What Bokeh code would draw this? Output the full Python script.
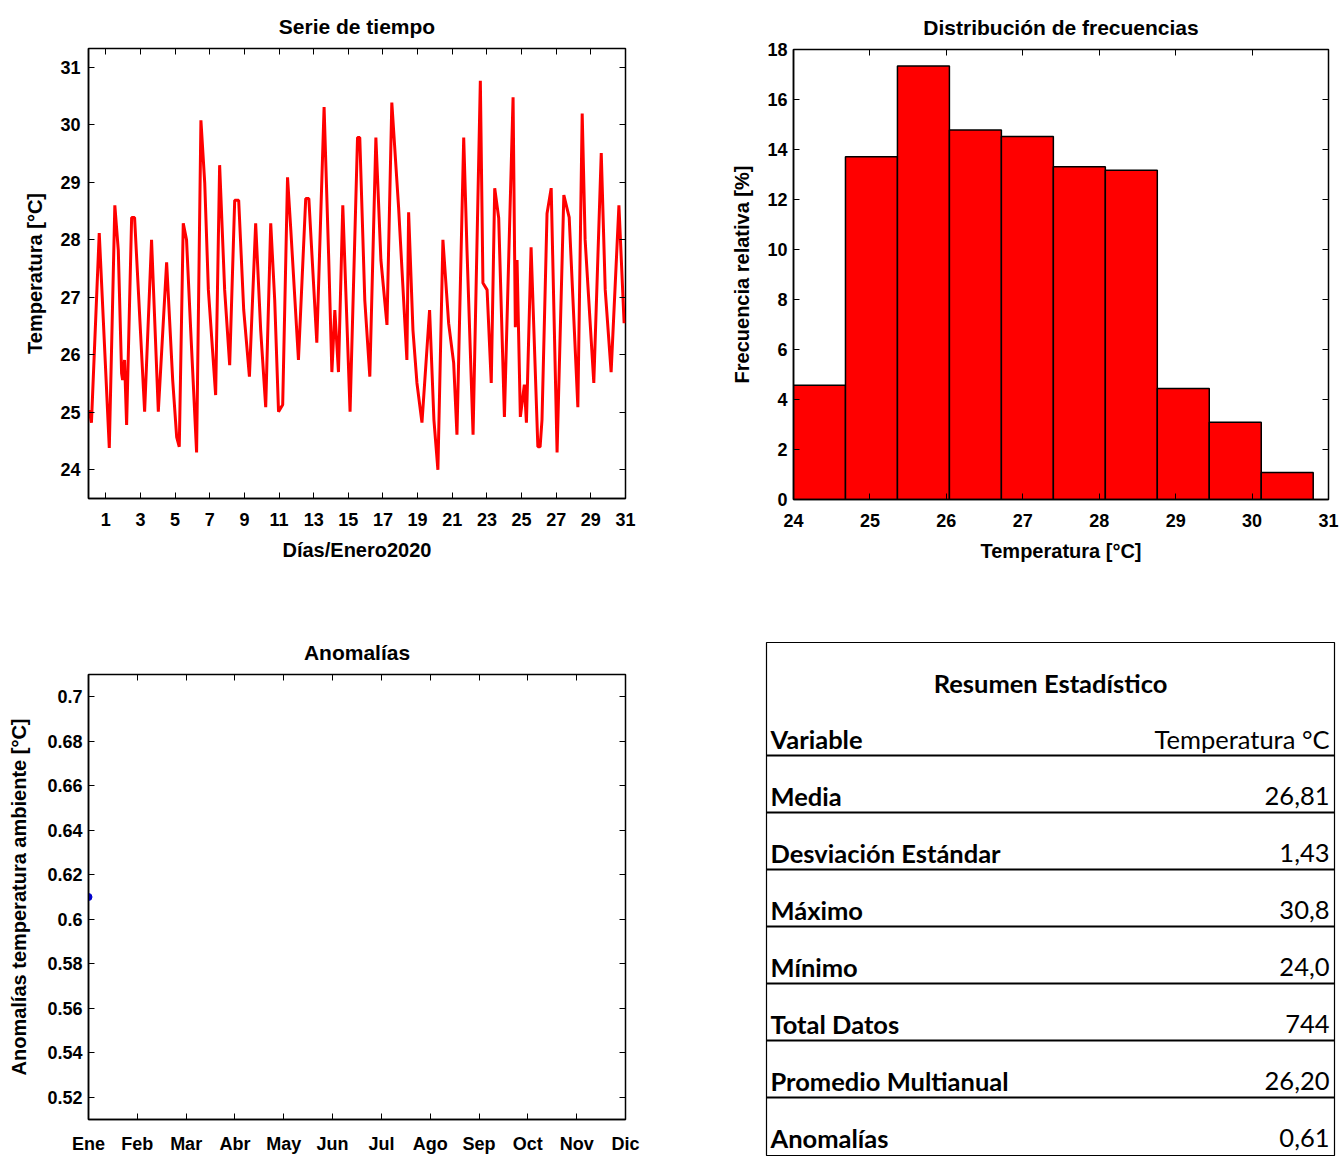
from bokeh.plotting import figure
from bokeh.layouts import row, column
from bokeh.models import (Range1d, FixedTicker, LinearAxis, CustomJSTickFormatter,
                          NumeralTickFormatter, ColumnDataSource)
from bokeh.core.properties import value
from bokeh.embed import file_html
from bokeh.resources import INLINE

# ---------------- data ----------------
dias = [0.04, 0.17, 0.62, 1.20, 1.52, 1.72, 1.91, 1.97, 2.08, 2.20,
        2.49, 2.66, 3.24, 3.64, 4.03, 4.51, 4.86, 5.09, 5.24, 5.47,
        5.66, 5.90, 6.24, 6.49, 6.71, 6.92, 7.34, 7.57, 7.86, 8.15,
        8.44, 8.67, 8.96, 9.29, 9.65, 9.94, 10.23, 10.52, 10.75, 10.97,
        11.21, 11.49, 11.68, 12.12, 12.54, 12.72, 13.18, 13.60, 13.87, 14.05,
        14.22, 14.43, 14.68, 15.10, 15.53, 15.66, 15.95, 16.24, 16.59, 16.88,
        17.23, 17.51, 17.90, 18.38, 18.48, 18.73, 18.96, 19.25, 19.69, 19.94,
        20.17, 20.46, 20.79, 21.08, 21.27, 21.66, 21.85, 22.20, 22.62, 22.77,
        23.01, 23.25, 23.45, 23.68, 24.01, 24.51, 24.64, 24.74, 24.93, 25.16,
        25.28, 25.55, 25.94, 26.07, 26.18, 26.47, 26.71, 27.05, 27.44, 27.75,
        28.25, 28.50, 28.67, 29.17, 29.60, 29.83, 30.17, 30.62, 30.92]
temperatura = [25.04, 24.82, 28.12, 24.38, 28.60, 27.82, 25.68, 25.56, 25.91, 24.78,
               28.39, 28.39, 25.01, 28.00, 25.01, 27.61, 25.56, 24.57, 24.40, 28.29,
               28.00, 26.43, 24.30, 30.08, 28.99, 27.13, 25.30, 29.30, 27.13, 25.82,
               28.69, 28.69, 26.78, 25.62, 28.29, 26.43, 25.09, 28.29, 26.95, 25.01,
               25.13, 29.09, 28.17, 25.91, 28.72, 28.72, 26.21, 30.31, 27.65, 25.70,
               26.78, 25.70, 28.60, 25.01, 29.78, 29.78, 26.95, 25.62, 29.78, 27.65,
               26.52, 30.39, 28.57, 25.91, 28.48, 26.43, 25.51, 24.82, 26.78, 24.87,
               24.00, 28.00, 26.55, 25.86, 24.61, 29.78, 27.82, 24.61, 30.77, 27.25,
               27.13, 25.51, 28.90, 28.38, 24.92, 30.48, 26.48, 27.65, 24.92, 25.48,
               24.82, 27.87, 24.40, 24.40, 24.87, 28.46, 28.90, 24.30, 28.78, 28.39,
               25.09, 30.20, 28.00, 25.51, 29.51, 27.13, 25.70, 28.60, 26.55]
dia_ticks = [1, 3, 5, 7, 9, 11, 13, 15, 17, 19, 21, 23, 25, 27, 29, 31]
temp_ticks = [24, 25, 26, 27, 28, 29, 30, 31]

bin_edges = [24.0, 24.68, 25.36, 26.04, 26.72, 27.40, 28.08, 28.76, 29.44, 30.12, 30.80]
frecuencia = [4.57, 13.71, 17.34, 14.78, 14.52, 13.31, 13.17, 4.44, 3.09, 1.08]
frec_ticks = [0, 2, 4, 6, 8, 10, 12, 14, 16, 18]

meses = ["Ene", "Feb", "Mar", "Abr", "May", "Jun", "Jul", "Ago", "Sep", "Oct", "Nov", "Dic"]
mes_num = [1]
anomalia = [0.61]
anom_ticks = [0.52, 0.54, 0.56, 0.58, 0.60, 0.62, 0.64, 0.66, 0.68, 0.70]

tabla_titulo = "Resumen Estadístico"
tabla_variables = ["Variable", "Media", "Desviación Estándar", "Máximo", "Mínimo",
                   "Total Datos", "Promedio Multianual", "Anomalías"]
tabla_valores = ["Temperatura °C", "26,81", "1,43", "30,8", "24,0", "744", "26,20", "0,61"]

# ---------------- style helpers ----------------
FONT = "Liberation Sans"
TICK_FS = "18px"
LABEL_FS = "20px"
TITLE_FS = "21px"


def base_style(p, xticks, yticks):
    p.frame_align = False
    p.outline_line_color = "black"
    p.outline_line_width = 1.5
    p.xgrid.visible = False
    p.ygrid.visible = False
    p.background_fill_color = "white"
    p.border_fill_color = "white"
    p.title.align = "center"
    p.title.text_font = FONT
    p.title.text_font_size = TITLE_FS
    p.title.text_font_style = "bold"
    p.title.text_color = "black"
    p.title.standoff = 21
    xa = p.below[0]
    ya = p.left[0]
    for ax in (xa, ya):
        ax.axis_line_color = "black"
        ax.axis_line_width = 1.5
        ax.major_tick_in = 6
        ax.major_tick_out = 0
        ax.major_tick_line_color = "black"
        ax.major_tick_line_width = 1
        ax.minor_tick_line_color = None
        ax.major_label_text_font = FONT
        ax.major_label_text_font_size = TICK_FS
        ax.major_label_text_font_style = "bold"
        ax.major_label_text_color = "black"
        ax.axis_label_text_font = FONT
        ax.axis_label_text_font_size = LABEL_FS
        ax.axis_label_text_font_style = "bold"
        ax.axis_label_text_color = "black"
    xa.ticker = FixedTicker(ticks=xticks)
    ya.ticker = FixedTicker(ticks=yticks)
    xa.major_label_standoff = 14
    ya.major_label_standoff = 8
    xa.axis_label_standoff = 10
    ya.axis_label_standoff = 11
    # mirrored ticks (top / right)
    for side, ticks in (("above", xticks), ("right", yticks)):
        ax = LinearAxis(ticker=FixedTicker(ticks=ticks),
                        formatter=CustomJSTickFormatter(code="return ''"),
                        major_tick_in=6, major_tick_out=0,
                        minor_tick_line_color=None, axis_line_color=None,
                        major_label_standoff=0, major_label_text_font_size="1px")
        p.add_layout(ax, side)
    return xa, ya


# ---------------- 1: Serie de tiempo ----------------
p1 = figure(width=688, height=598, output_backend="svg", toolbar_location=None,
            title="Serie de tiempo", x_range=Range1d(0, 31), y_range=Range1d(23.5, 31.33),
            x_axis_label="Días/Enero2020", y_axis_label="Temperatura [°C]",
            min_border_left=88, min_border_right=63, min_border_top=48, min_border_bottom=100)
p1.line(dias, temperatura, line_color="#FF0000", line_width=3)
base_style(p1, dia_ticks, temp_ticks)

# ---------------- 2: Distribución de frecuencias ----------------
p2 = figure(width=654, height=598, output_backend="svg", toolbar_location=None,
            title="Distribución de frecuencias", x_range=Range1d(24, 31), y_range=Range1d(0, 18),
            x_axis_label="Temperatura [°C]", y_axis_label="Frecuencia relativa [%]",
            min_border_left=105, min_border_right=14, min_border_top=49, min_border_bottom=99)
hist_src = ColumnDataSource(dict(left=bin_edges[:-1], right=bin_edges[1:],
                                 top=frecuencia, bottom=[0] * len(frecuencia)))
p2.quad(left="left", right="right", top="top", bottom="bottom", source=hist_src,
        fill_color="#FF0000", line_color="black", line_width=1.5)
xa2, ya2 = base_style(p2, temp_ticks, frec_ticks)
ya2.major_label_standoff = 6

# ---------------- 3: Anomalías ----------------
p3 = figure(width=688, height=558, output_backend="svg", toolbar_location=None,
            title="Anomalías", x_range=Range1d(1, 12), y_range=Range1d(0.51, 0.71),
            y_axis_label="Anomalías temperatura ambiente [°C]",
            min_border_left=88, min_border_right=63, min_border_top=76, min_border_bottom=33)
p3.scatter(mes_num, anomalia, size=7, fill_color="#0000CC", line_color="#0000CC")
xa3, ya3 = base_style(p3, list(range(1, 13)), anom_ticks)
xa3.formatter = CustomJSTickFormatter(args=dict(labels=meses),
                                      code="return labels[Math.round(tick) - 1] || '';")
ya3.formatter = NumeralTickFormatter(format="0.0[0]")
ya3.major_label_standoff = 6
ya3.axis_label_standoff = 14

# ---------------- 4: Resumen Estadístico ----------------
TW, TH = 568, 513
p4 = figure(width=654, height=558, output_backend="svg", toolbar_location=None,
            x_range=Range1d(0, TW), y_range=Range1d(TH, 0),
            x_axis_location=None, y_axis_location=None,
            min_border_left=78, min_border_right=8, min_border_top=44, min_border_bottom=1)
p4.frame_align = False
p4.xgrid.visible = False
p4.ygrid.visible = False
p4.outline_line_color = "black"
p4.outline_line_width = 1.2
row_h = 57
first_y = 96
n = len(tabla_variables)
ys = [first_y + row_h * i for i in range(n)]
TFONT = "Lato"
TFS = "25.5px"
p4.text(x=[TW / 2], y=[40], text=[tabla_titulo], text_font=value(TFONT),
        text_font_size=value(TFS), text_font_style="bold", text_align="center",
        text_baseline="middle", text_color="black")
p4.text(x=[4] * n, y=ys, text=tabla_variables, text_font=value(TFONT),
        text_font_size=value(TFS), text_font_style="bold", text_align="left",
        text_baseline="middle", text_color="black")
p4.text(x=[TW - 5] * n, y=ys, text=tabla_valores, text_font=value(TFONT),
        text_font_size=value(TFS), text_font_style="normal", text_align="right",
        text_baseline="middle", text_color="black")
line_ys = [y + 17 for y in ys[:-1]]
p4.segment(x0=[0] * len(line_ys), x1=[TW] * len(line_ys), y0=line_ys, y1=line_ys,
           line_color="black", line_width=2)

layout = row(column(p1, p3), column(p2, p4))
open("out.html", "w").write(file_html(layout, INLINE))
